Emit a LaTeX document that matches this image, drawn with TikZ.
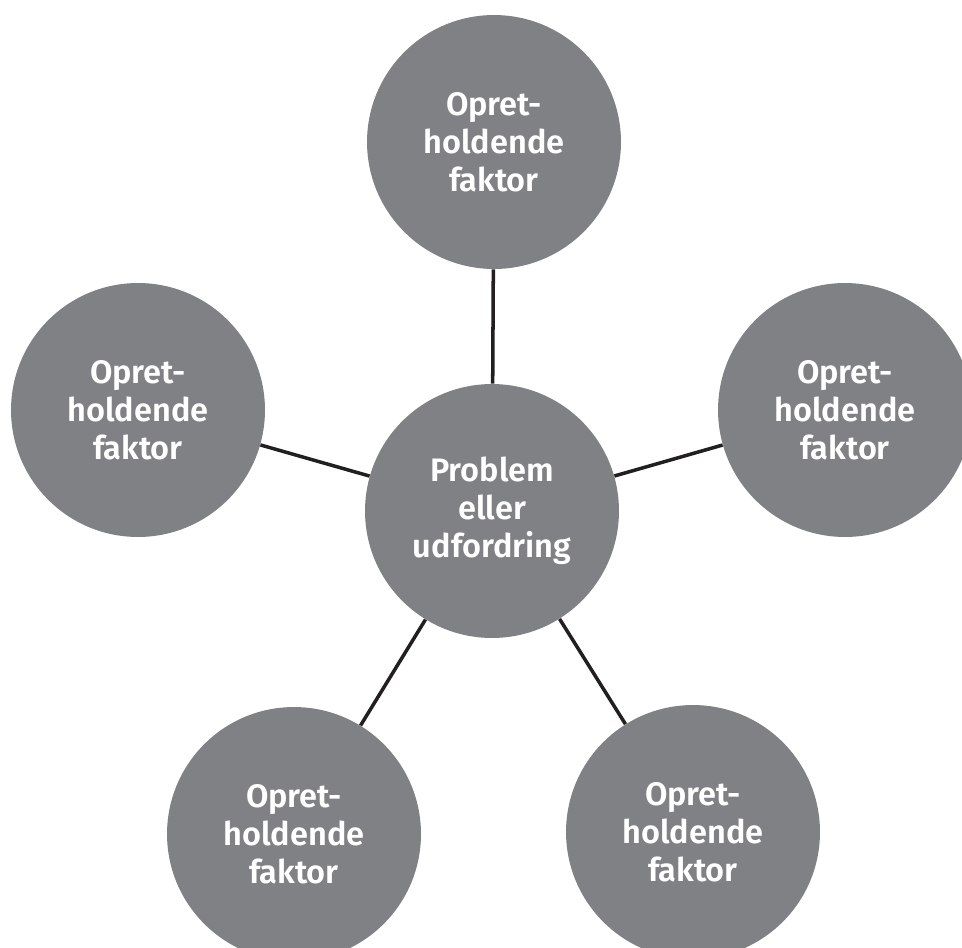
\documentclass[tikz,border=0pt]{standalone}
\usepackage{fontspec}
\setsansfont{Fira Sans}[BoldFont={Fira Sans SemiBold}]
\definecolor{discgray}{HTML}{808184}
\definecolor{linkblack}{HTML}{231F20}

\begin{document}
\begin{tikzpicture}[%
    x=0.02cm,
    y=-0.02cm,
    disc/.style={%
      circle,
      fill=discgray,
      minimum size=5.08cm,
      inner sep=0pt,
      align=center,
      text=white,
      font=\sffamily\bfseries\fontsize{18.5}{21.5}\selectfont
    },
    link/.style={%
      draw=linkblack,
      line width=2pt
    }
  ]
    \useasboundingbox (0,0) rectangle (962,947);
    \clip (0,0) rectangle (962,947);

    \node[disc] (centre) at (492,511) {Problem\\eller\\udfordring};
    \node[disc] (top)    at (494,142) {Opret-\\holdende\\faktor};
    \node[disc] (left)   at (138,410) {Opret-\\holdende\\faktor};
    \node[disc] (right)  at (845,410) {Opret-\\holdende\\faktor};
    \node[disc] (botl)   at (294,834) {Opret-\\holdende\\faktor};
    \node[disc] (botr)   at (693,832) {Opret-\\holdende\\faktor};

    \path (centre) edge [link] (top)
          (centre) edge [link] (left)
          (centre) edge [link] (right)
          (centre) edge [link] (botl)
          (centre) edge [link] (botr)
          ;
\end{tikzpicture}
\end{document}
